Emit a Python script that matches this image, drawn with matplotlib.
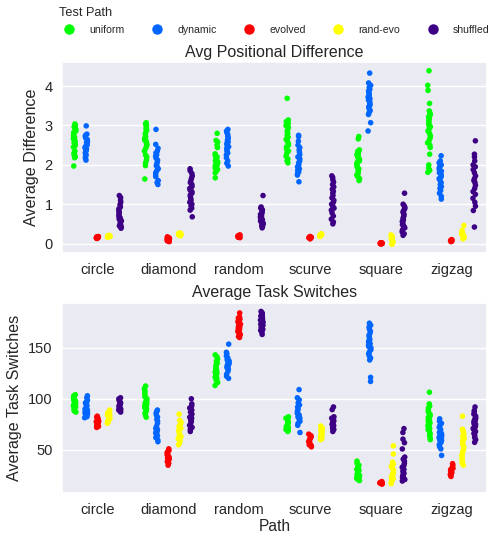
import numpy as np
import pandas as pd
import matplotlib
matplotlib.use("Agg")
import matplotlib.pyplot as plt
from matplotlib.lines import Line2D
import seaborn as sns

paths = ["circle", "diamond", "random", "scurve", "square", "zigzag"]
tests = ["uniform", "dynamic", "evolved", "rand-evo", "shuffled"]
colors = ["#00ff00", "#0066ff", "#ff0000", "#ffff00", "#3d0085"]

# Avg Positional Difference
pos_circle_uniform = [3.04, 3.0, 2.97, 2.93, 2.9, 2.86, 2.82, 2.78, 2.74, 2.7, 2.66, 2.62, 2.6, 2.56, 2.52, 2.48, 2.45, 2.35, 2.3, 2.27, 2.25, 2.2, 2.18, 1.97]
pos_circle_dynamic = [2.99, 2.78, 2.75, 2.72, 2.68, 2.64, 2.6, 2.57, 2.54, 2.5, 2.47, 2.44, 2.4, 2.37, 2.34, 2.3, 2.27, 2.24, 2.2, 2.16, 2.12]
pos_circle_evolved = [0.18, 0.17, 0.17, 0.16, 0.16, 0.15, 0.15, 0.15, 0.14, 0.14, 0.13, 0.16, 0.15, 0.17]
pos_circle_randevo = [0.21, 0.2, 0.19, 0.19, 0.18, 0.18, 0.17, 0.16, 0.2, 0.18]
pos_circle_shuffled = [1.22, 1.17, 1.1, 1.05, 0.99, 0.93, 0.88, 0.84, 0.8, 0.76, 0.72, 0.68, 0.65, 0.62, 0.58, 0.55, 0.52, 0.48, 0.45, 0.42, 0.39]

pos_diamond_uniform = [3.07, 3.04, 3.0, 2.96, 2.92, 2.88, 2.84, 2.78, 2.72, 2.68, 2.63, 2.6, 2.56, 2.52, 2.48, 2.42, 2.35, 2.25, 2.2, 2.12, 2.05, 1.98, 1.64]
pos_diamond_dynamic = [2.9, 2.52, 2.42, 2.35, 2.3, 2.26, 2.22, 2.17, 2.12, 2.08, 2.03, 1.98, 1.94, 1.9, 1.85, 1.8, 1.75, 1.7, 1.6, 1.55, 1.5]
pos_diamond_evolved = [0.17, 0.16, 0.15, 0.13, 0.12, 0.11, 0.1, 0.09, 0.08, 0.07, 0.06, 0.05, 0.14, 0.09]
pos_diamond_randevo = [0.27, 0.26, 0.25, 0.24, 0.23, 0.22, 0.21, 0.2, 0.25, 0.23]
pos_diamond_shuffled = [1.9, 1.85, 1.78, 1.72, 1.66, 1.6, 1.55, 1.5, 1.45, 1.4, 1.36, 1.32, 1.28, 1.24, 1.2, 1.15, 1.1, 1.05, 1.0, 0.95, 0.9, 0.85, 0.68]

pos_random_uniform = [2.8, 2.62, 2.58, 2.5, 2.44, 2.28, 2.24, 2.2, 2.16, 2.13, 2.1, 2.07, 2.04, 2.01, 1.98, 1.95, 1.92, 1.88, 1.84, 1.8, 1.67]
pos_random_dynamic = [2.9, 2.86, 2.82, 2.78, 2.74, 2.7, 2.66, 2.62, 2.58, 2.54, 2.5, 2.46, 2.42, 2.38, 2.34, 2.3, 2.25, 2.18, 2.1, 2.04, 1.97]
pos_random_evolved = [0.22, 0.21, 0.2, 0.2, 0.19, 0.19, 0.18, 0.18, 0.17, 0.16, 0.15, 0.2, 0.19]
pos_random_randevo = []
pos_random_shuffled = [1.22, 0.93, 0.9, 0.86, 0.82, 0.78, 0.74, 0.7, 0.67, 0.64, 0.61, 0.58, 0.55, 0.52, 0.49, 0.46, 0.43, 0.4]

pos_scurve_uniform = [3.69, 3.14, 3.1, 3.05, 3.0, 2.95, 2.9, 2.85, 2.8, 2.75, 2.7, 2.65, 2.6, 2.55, 2.5, 2.45, 2.4, 2.35, 2.3, 2.22, 2.15, 2.1, 2.05]
pos_scurve_dynamic = [2.75, 2.72, 2.6, 2.5, 2.44, 2.38, 2.32, 2.26, 2.2, 2.15, 2.1, 2.05, 2.0, 1.95, 1.9, 1.86, 1.82, 1.78, 1.74, 1.57]
pos_scurve_evolved = [0.18, 0.17, 0.16, 0.16, 0.15, 0.15, 0.14, 0.14, 0.13, 0.12, 0.15]
pos_scurve_randevo = [0.25, 0.24, 0.23, 0.22, 0.21, 0.2, 0.19, 0.18, 0.22]
pos_scurve_shuffled = [1.72, 1.68, 1.62, 1.56, 1.5, 1.44, 1.38, 1.33, 1.28, 1.22, 1.16, 1.1, 1.05, 1.0, 0.95, 0.9, 0.85, 0.78, 0.7, 0.62, 0.55, 0.5]

pos_square_uniform = [2.72, 2.66, 2.38, 2.34, 2.3, 2.26, 2.22, 2.18, 2.14, 2.1, 2.06, 2.02, 1.98, 1.94, 1.9, 1.86, 1.82, 1.78, 1.74, 1.7, 1.65, 1.6]
pos_square_dynamic = [4.33, 4.08, 4.02, 3.97, 3.92, 3.88, 3.84, 3.8, 3.76, 3.72, 3.68, 3.64, 3.6, 3.56, 3.52, 3.48, 3.44, 3.38, 3.33, 3.28, 3.07, 2.86]
pos_square_evolved = [0.02, 0.01, 0.01, 0.0, 0.0, 0.0, -0.01, 0.01, 0.0, 0.02]
pos_square_randevo = [0.22, 0.2, 0.18, 0.16, 0.14, 0.12, 0.1, 0.08, 0.06, 0.04, 0.02, 0.0, -0.02]
pos_square_shuffled = [1.28, 1.0, 0.96, 0.92, 0.88, 0.84, 0.8, 0.76, 0.72, 0.68, 0.64, 0.6, 0.56, 0.52, 0.48, 0.44, 0.4, 0.35, 0.3, 0.25, 0.21]

pos_zigzag_uniform = [4.39, 4.02, 3.89, 3.56, 3.37, 3.32, 3.27, 3.22, 3.17, 3.12, 3.07, 3.02, 2.97, 2.92, 2.86, 2.8, 2.74, 2.68, 2.62, 2.56, 2.5, 2.44, 2.27, 2.0, 1.92, 1.86, 1.81]
pos_zigzag_dynamic = [2.23, 2.1, 2.05, 2.0, 1.96, 1.92, 1.88, 1.84, 1.8, 1.75, 1.7, 1.65, 1.6, 1.55, 1.5, 1.45, 1.4, 1.35, 1.28, 1.2, 1.13]
pos_zigzag_evolved = [0.1, 0.09, 0.08, 0.08, 0.07, 0.06, 0.05, 0.09, 0.07]
pos_zigzag_randevo = [0.46, 0.33, 0.3, 0.27, 0.24, 0.21, 0.18, 0.15, 0.12, 0.25]
pos_zigzag_shuffled = [2.61, 2.27, 2.2, 2.1, 2.0, 1.95, 1.88, 1.8, 1.72, 1.65, 1.6, 1.55, 1.48, 1.4, 1.32, 1.25, 1.15, 1.05, 0.95, 0.84, 0.42]

# Average Task Switches
sw_circle_uniform = [104, 103, 102, 101, 100, 99, 98.5, 98, 97, 96.5, 96, 95, 94.5, 94, 93, 92.5, 92, 91, 90, 89, 88, 87]
sw_circle_dynamic = [103, 101, 99, 97, 96, 95, 94, 93, 92, 91, 90, 89, 88, 87, 86, 85, 84, 82.5, 81.5]
sw_circle_evolved = [83, 82, 81, 80, 79, 78.5, 78, 77.5, 77, 76, 75, 74, 73, 72]
sw_circle_randevo = [89, 87, 86, 85, 84, 83, 82, 81, 80, 79, 78, 77, 76]
sw_circle_shuffled = [101, 100, 99, 98, 97, 96, 95, 94, 93, 92, 91, 90, 89, 88, 87]

sw_diamond_uniform = [112.5, 110, 108, 106, 104, 102, 100, 99, 98, 97, 96, 95, 94, 93, 92, 91, 90, 88, 86, 84, 82]
sw_diamond_dynamic = [89, 88, 86, 84, 82, 80, 78, 76, 73, 71, 70, 69, 68, 67, 66, 65, 64, 62, 60, 58]
sw_diamond_evolved = [51, 49.5, 48, 47, 46, 45, 44, 43, 42, 41, 40, 38.5, 37, 35]
sw_diamond_randevo = [85, 79, 77, 75, 73, 71, 69, 67, 65, 63, 61, 59, 57, 55]
sw_diamond_shuffled = [100, 95, 93, 91, 89, 87, 85, 83, 82, 81, 80, 79, 78, 76, 74, 72, 70, 68]

sw_random_uniform = [143, 141, 139, 137, 135, 133, 131, 130, 129, 128, 127, 126, 125, 124, 123, 122, 121, 120, 118, 116, 113]
sw_random_dynamic = [153.5, 145.5, 144, 142, 140, 139, 138, 137, 136, 135, 134, 133, 132, 131, 130, 129, 127, 124, 122, 120]
sw_random_evolved = [184, 180, 179, 178, 177, 176, 175, 174, 173, 172, 171, 170, 169, 168, 167, 166, 165, 164, 163, 162, 161, 160]
sw_random_randevo = []
sw_random_shuffled = [185.5, 184, 183, 182, 181, 180, 179, 178, 177, 176, 175, 174, 173, 172, 171, 170, 169, 168, 167, 165, 163]

sw_scurve_uniform = [82.4, 81, 80, 79, 78, 77, 76, 75, 74, 73, 72, 71, 70, 69, 68]
sw_scurve_dynamic = [109, 101, 99, 96, 94, 92, 90, 88, 86, 85, 84, 83, 82, 81, 80, 78, 76, 74, 67]
sw_scurve_evolved = [65.4, 64, 63, 62, 61, 60, 59, 58, 57, 56, 55, 54, 53]
sw_scurve_randevo = [73.4, 72, 71, 70, 69, 68, 67, 66, 65, 64, 63, 62, 61, 60]
sw_scurve_shuffled = [92, 89.4, 82.4, 81, 80, 79, 78, 77, 76, 75, 74, 73, 72, 71, 70, 68]

sw_square_uniform = [39, 37, 35, 34, 33, 32, 31, 30, 29, 28, 27, 26, 25, 24, 23, 22, 21, 20]
sw_square_dynamic = [174, 172, 170, 168, 166, 164, 162, 160, 158, 157, 156, 155, 154, 153, 152, 151, 150, 148, 146, 144, 142, 140, 138, 121, 117]
sw_square_evolved = [19, 18.5, 18, 17.5, 17, 17, 17.5, 18, 16.5]
sw_square_randevo = [54, 46, 38, 36, 34, 32, 30, 28, 27, 26, 25, 24, 23, 22, 21, 20, 19, 18, 17]
sw_square_shuffled = [70.8, 67, 60.5, 57, 50.9, 43, 41, 39, 37, 35, 33, 31, 30, 29, 28, 27, 26, 25, 24, 23, 22, 21, 19.5]

sw_zigzag_uniform = [106.4, 95, 93, 91, 89, 87, 85, 84, 83, 82, 81, 80, 79, 78, 77, 76, 75, 74, 73, 72, 71, 70, 68, 66, 64, 62, 60]
sw_zigzag_dynamic = [80.4, 78, 76, 74, 72, 70, 68, 67, 66, 65, 64, 63, 62, 61, 60, 59, 58, 57, 55, 53, 51, 44.6]
sw_zigzag_evolved = [36.5, 35, 33, 32, 31, 30, 29, 28, 27, 26, 25, 24]
sw_zigzag_randevo = [83, 70.2, 68.6, 67, 65, 63, 61, 59, 57, 55, 53, 51, 49, 47, 45, 43, 41, 39, 37, 35]
sw_zigzag_shuffled = [92, 88.5, 87, 85, 83, 81, 80, 79, 78, 77, 76, 75, 74, 73, 72, 71, 70, 69, 68, 67, 66, 64, 62, 60, 57.4]


def build(prefix):
    rows = []
    g = globals()
    for p in paths:
        for t in tests:
            vals = g["%s_%s_%s" % (prefix, p, t.replace("-", ""))]
            for v in vals:
                rows.append((p, t, v))
    return pd.DataFrame(rows, columns=["Path", "Test Path", "value"])


pos_df = build("pos")
sw_df = build("sw")

sns.set_theme(style="darkgrid")
plt.rcParams["font.family"] = ["Liberation Sans", "DejaVu Sans"]
np.random.seed(3)

fig = plt.figure(figsize=(4.92, 5.35), dpi=100)
ax1 = fig.add_axes([0.126, 0.527, 0.864, 0.357])
ax2 = fig.add_axes([0.126, 0.079, 0.864, 0.355])

for ax, df, title, ylab in [(ax1, pos_df, "Avg Positional Difference", "Average Difference"),
                            (ax2, sw_df, "Average Task Switches", "Average Task Switches")]:
    sns.stripplot(data=df, x="Path", y="value", hue="Test Path", order=paths,
                  hue_order=tests, palette=colors, dodge=True, size=4,
                  linewidth=0, ax=ax)
    ax.legend_.remove()
    ax.set_title(title, fontsize=11.5, pad=4)
    ax.set_ylabel(ylab, fontsize=11.6)
    ax.tick_params(axis="x", labelsize=10.5, pad=1.5)
    ax.tick_params(axis="y", labelsize=10.5, pad=0.8)

ax1.set_xlabel("")
ax2.set_xlabel("Path", fontsize=11.2, labelpad=1)
ax2.set_yticks([50, 100, 150])

handles = [Line2D([], [], marker="o", linestyle="", markersize=6.5, color=c) for c in colors]
fig.legend(handles, tests, title="Test Path", loc="upper left", ncol=5,
           bbox_to_anchor=(0.1, 1.004), frameon=False, fontsize=7.6,
           title_fontsize=9.2, alignment="left", columnspacing=2.1,
           handletextpad=0.9)

fig.savefig("out.png", dpi=100)
